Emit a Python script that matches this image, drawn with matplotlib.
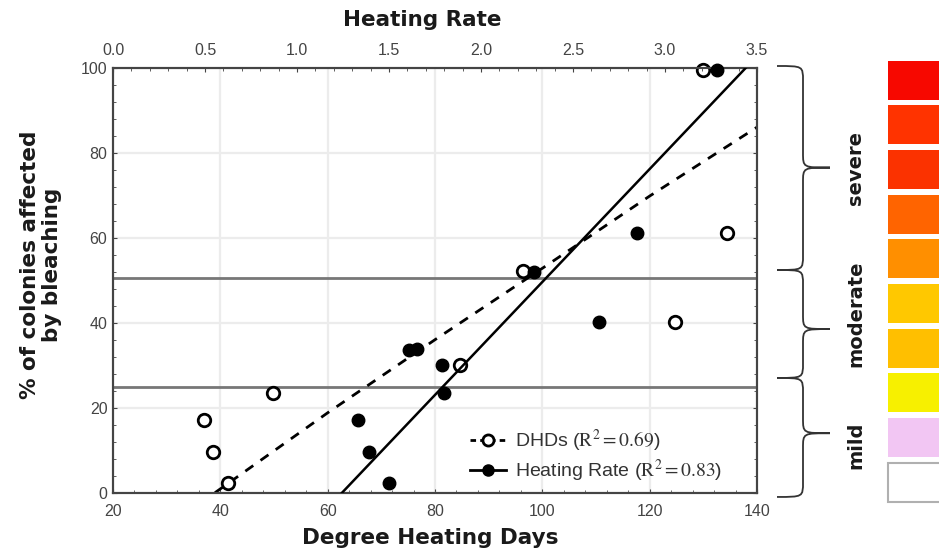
import matplotlib
matplotlib.use("Agg")
import matplotlib.pyplot as plt
from matplotlib.lines import Line2D
from matplotlib.patches import Rectangle, PathPatch
from matplotlib.path import Path
from matplotlib.ticker import AutoMinorLocator, FormatStrFormatter
import matplotlib.transforms as mtransforms

W, H = 939, 553

# open circles: % bleached vs degree heating days
dhd_x = [37.0, 38.7, 41.5, 49.9, 84.6, 96.4, 124.7, 129.9, 134.5]
dhd_y = [17.1, 9.5, 2.3, 23.5, 30.0, 52.2, 40.2, 99.5, 61.0]

# filled circles: % bleached vs heating rate (top axis)
hr_x = [1.33, 1.39, 1.50, 1.61, 1.65, 1.79, 1.80, 2.29, 2.64, 2.85, 3.28]
hr_y = [17.1, 9.6, 2.2, 33.6, 33.8, 30.0, 23.4, 52.0, 40.2, 61.0, 99.5]

# fitted curves
dhd_fit_x = [39, 60, 80, 100, 120, 140]
dhd_fit_y = [0, 18.8, 36.0, 52.8, 69.8, 86.0]
hr_fit_x = [1.245, 3.44]
hr_fit_y = [0, 100]

threshold_levels = [50.4, 24.8]

# brace ranges (% axis) and their labels
brace_bounds = [(100.4, 52.4), (52.4, 27.0), (27.0, -1.0)]
brace_tips = [76.5, 38.5, 14.0]
brace_labels = ["severe", "moderate", "mild"]
label_centers_px = [168, 314, 445]

# colour scale swatches, top to bottom
swatch_colors = ["#f70800", "#ff3300", "#fb3200", "#ff6400", "#ff8f00",
                 "#ffc800", "#ffbf00", "#f7f000", "#f2c6f3", "#ffffff"]
swatch_tops_px = [61, 105, 150, 195, 239, 284, 329, 373, 418, 463]
swatch_h_px = 39

fig = plt.figure(figsize=(W / 100, H / 100), dpi=100)
plt.rcParams["mathtext.fontset"] = "stix"

def px_x(x):
    return x / W

def px_y(y):
    return 1 - y / H

ax_l, ax_r, ax_t, ax_b = 113, 757, 67.7, 492.7
ax = fig.add_axes([px_x(ax_l), px_y(ax_b), (ax_r - ax_l) / W, (ax_b - ax_t) / H])
ax.set_xlim(20, 140)
ax.set_ylim(0, 100)
ax.set_xticks(range(20, 141, 20))
ax.set_yticks(range(0, 101, 20))
ax.grid(True, color="#ececec", lw=1.6)
ax.set_axisbelow(True)

axis_gray = "#444444"
for lab in ax.get_xticklabels() + ax.get_yticklabels():
    lab.set_fontfamily("Liberation Sans")
ax.tick_params(axis="both", which="both", direction="in", colors=axis_gray,
               labelsize=11.5, labelcolor="#444444", right=True)
ax.tick_params(axis="both", which="major", length=3)
ax.tick_params(axis="both", which="minor", length=2)
ax.tick_params(axis="x", pad=8)
ax.tick_params(axis="y", pad=4)
ax.xaxis.set_minor_locator(AutoMinorLocator(5))
ax.yaxis.set_minor_locator(AutoMinorLocator(5))
for s in ax.spines.values():
    s.set_color(axis_gray)
    s.set_linewidth(1.5)

for lvl in threshold_levels:
    ax.axhline(lvl, color="#777777", lw=2, zorder=1.5)

ax.plot(dhd_fit_x, dhd_fit_y, color="black", lw=2, linestyle=(0, (3.5, 3.2)), zorder=3)
ax.plot(dhd_x, dhd_y, "o", ms=9, mfc="white", mec="black", mew=2, zorder=4,
        clip_on=False)

ax2 = ax.twiny()
ax2.set_xlim(0, 3.5)
ax2.set_xticks([i * 0.5 for i in range(8)])
ax2.xaxis.set_major_formatter(FormatStrFormatter("%.1f"))
ax2.xaxis.set_minor_locator(AutoMinorLocator(5))
ax2.tick_params(axis="x", which="both", direction="in", colors=axis_gray,
                labelsize=11.5, labelcolor="#444444", pad=7)
ax2.tick_params(axis="x", which="major", length=3)
ax2.tick_params(axis="x", which="minor", length=2)
for lab in ax2.get_xticklabels():
    lab.set_fontfamily("Liberation Sans")
for s in ax2.spines.values():
    s.set_color(axis_gray)
    s.set_linewidth(1.5)

ax2.plot(hr_fit_x, hr_fit_y, color="black", lw=1.8, zorder=3)
ax2.plot(hr_x, hr_y, "o", ms=9, mfc="black", mec="black", zorder=4, clip_on=False)

label_font = dict(family="DejaVu Sans", weight="bold", size=15.5, color="#1a1a1a")
fig.text(px_x(430), px_y(538), "Degree Heating Days", ha="center", va="center", **label_font)
fig.text(px_x(422), px_y(20), "Heating Rate", ha="center", va="center", **label_font)
fig.text(px_x(41), px_y(265), "% of colonies affected\nby bleaching", ha="center",
         va="center", rotation=90, linespacing=1.1, **label_font)

handles = [
    Line2D([], [], color="black", lw=2, linestyle=(0, (2, 1.5)), marker="o",
           ms=8, mfc="white", mec="black", mew=2),
    Line2D([], [], color="black", lw=2, marker="o", ms=8, mfc="black", mec="black"),
]
labels = [r"DHDs ($\mathrm{R}^2 = 0.69$)", r"Heating Rate ($\mathrm{R}^2 = 0.83$)"]
fig.legend(handles, labels, loc="upper left", bbox_to_anchor=(px_x(452), px_y(410)),
           frameon=False, handlelength=1.9, handletextpad=0.45, labelspacing=0.2,
           prop={"family": "Liberation Sans", "size": 14}, labelcolor="#333333")

# braces on the right
btrans = mtransforms.blended_transform_factory(fig.transFigure, ax.transData)
xl, xm, xt = px_x(777), px_x(803), px_x(830)
for (yt, yb), ym in zip(brace_bounds, brace_tips):
    r = 3.5
    verts = [
        (xl, yt), (xm, yt), (xm, yt), (xm, yt - r),
        (xm, ym + r),
        (xm, ym), (xm, ym), (xt, ym),
        (xm, ym), (xm, ym), (xm, ym - r),
        (xm, yb + r),
        (xm, yb), (xm, yb), (xl, yb),
    ]
    codes = [Path.MOVETO, Path.CURVE4, Path.CURVE4, Path.CURVE4,
             Path.LINETO,
             Path.CURVE4, Path.CURVE4, Path.CURVE4,
             Path.CURVE4, Path.CURVE4, Path.CURVE4,
             Path.LINETO,
             Path.CURVE4, Path.CURVE4, Path.CURVE4]
    fig.add_artist(PathPatch(Path(verts, codes), transform=btrans, fill=False,
                             edgecolor="#333333", lw=1.3, clip_on=False))

for text, yc in zip(brace_labels, label_centers_px):
    fig.text(px_x(856), px_y(yc), text, rotation=90, ha="center", va="center",
             family="DejaVu Sans", weight="bold", size=14, color="#1a1a1a")

for color, top in zip(swatch_colors, swatch_tops_px):
    edge = "#b0b0b0" if color == "#ffffff" else "none"
    fig.add_artist(Rectangle((px_x(888), px_y(top + swatch_h_px)), px_x(80),
                             swatch_h_px / H, transform=fig.transFigure,
                             facecolor=color, edgecolor=edge, lw=1.5))

fig.savefig("out.png", dpi=100)
